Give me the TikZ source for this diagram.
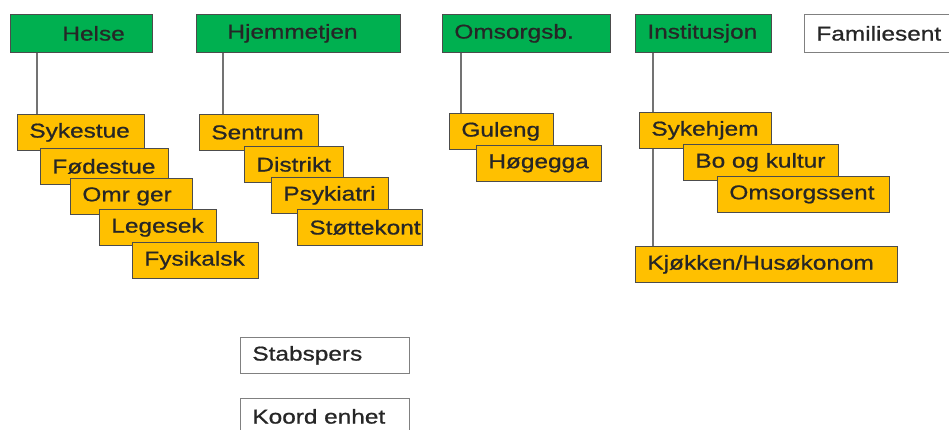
\documentclass[tikz,border=0pt]{standalone}
\usepackage{fontspec}
\setmainfont[FakeStretch=1.22, FakeBold=0.8]{Liberation Sans}
\usetikzlibrary{backgrounds}
\definecolor{leddgronn}{HTML}{00B050}
\definecolor{enhetgul}{HTML}{FFC000}
\tikzset{
	boks/.style={draw=black!70, line width=0.8pt, anchor=north west, align=left, inner xsep=12pt, inner ysep=0pt, minimum height=36pt, text=black!85, font=\fontsize{20}{22}\selectfont, text width=#1-24pt},
	ledd/.style={boks=#1, fill=leddgronn, minimum height=38pt},
	enhet/.style={boks=#1, fill=enhetgul},
	stab/.style={boks=#1, fill=white, draw=black!50},
	strek/.style={draw=black!55, line width=1.4pt}
}
\begin{document}
\begin{tikzpicture}[x=1pt, y=-1pt]
					\useasboundingbox (0,0) rectangle (949,430);
					\node[ledd=142pt] (helse) at (10,14) {\hspace*{40pt}Helse};
					\node[ledd=204pt] (hjemmetjen) at (196,14) {\hspace*{19pt}Hjemmetjen};
					\node[ledd=168pt] (omsorgsb) at (442,14) {Omsorgsb.};
					\node[ledd=136pt] (institusjon) at (635,14) {Institusjon};
					\node[stab=180pt, minimum height=38pt] (familiesent) at (804,14) {Familiesent};
					
					\node[enhet=127pt] (sykestue) at (17,114) {Sykestue};
					\node[enhet=128pt] (fodestue) at (40,148) {Fødestue};
					\node[enhet=122pt] (omrger) at (70,178) {Omr ger};
					\node[enhet=117pt] (legesek) at (99,209) {Legesek};
					\node[enhet=126pt] (fysikalsk) at (132,242) {Fysikalsk};
					
					\node[enhet=119pt] (sentrum) at (199,114) {Sentrum};
					\node[enhet=99pt] (distrikt) at (244,146) {Distrikt};
					\node[enhet=117pt] (psykiatri) at (271,177) {Psykiatri};
					\node[enhet=125pt] (stottekont) at (297,209) {Støttekont};
					
					\node[enhet=104pt] (guleng) at (449,113) {Guleng};
					\node[enhet=125pt] (hogegga) at (476,145) {Høgegga};
					
					\node[enhet=132pt] (sykehjem) at (639,112) {Sykehjem};
					\node[enhet=155pt] (bookultur) at (683,144) {Bo og kultur};
					\node[enhet=172pt] (omsorgssent) at (717,176) {Omsorgssent};
					\node[enhet=262pt] (kjokken) at (635,246) {Kjøkken/Husøkonom};
					
					\node[stab=169pt] (stabspers) at (240,337) {Stabspers};
					\node[stab=169pt] (koordenhet) at (240,398) {Koord enhet};
					
					\begin{scope}[on background layer]
						\draw[strek] ([xshift=27pt]helse.south west) -- ([xshift=27pt]helse.south west |- sykestue.north);
						\draw[strek] ([xshift=27pt]hjemmetjen.south west) -- ([xshift=27pt]hjemmetjen.south west |- sentrum.north);
						\draw[strek] ([xshift=19pt]omsorgsb.south west) -- ([xshift=19pt]omsorgsb.south west |- guleng.north);
						\draw[strek] ([xshift=18pt]institusjon.south west) -- ([xshift=18pt]institusjon.south west |- kjokken.north);
					\end{scope}
				\end{tikzpicture}
\end{document}
